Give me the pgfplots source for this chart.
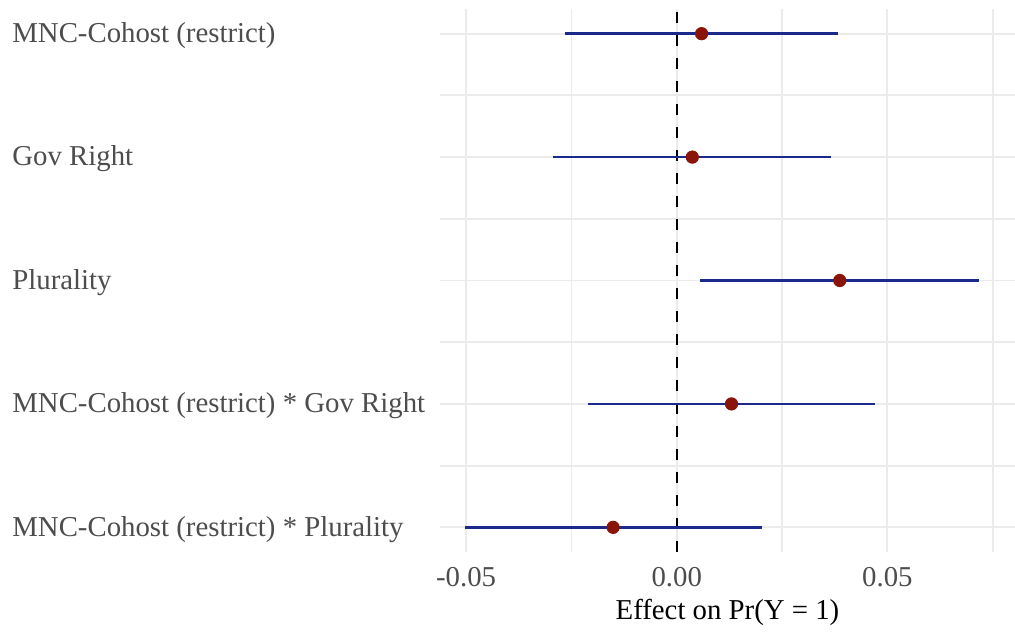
\documentclass[border=0pt]{standalone}
\usepackage{pgfplots}
\pgfplotsset{compat=1.18}
\usepackage{pgfplotstable}
\usepackage{fontspec}
\setmainfont{Liberation Serif}

\definecolor{cibar}{HTML}{1B2A8A}
\definecolor{estpt}{HTML}{8B1408}
\definecolor{gridgray}{HTML}{EBEBEB}
\definecolor{labgray}{HTML}{4D4D4D}

% row (top = 5), point estimate, lower and upper bound
\pgfplotstableread{
row est lo hi
5 0.0059 -0.0265 0.0384
4 0.0037 -0.0293 0.0367
3 0.0387 0.0056 0.0718
2 0.0130 -0.0210 0.0471
1 -0.0151 -0.0502 0.0202
}\effects

\begin{document}
\begin{tikzpicture}
\useasboundingbox (-220pt,-39.5pt) rectangle (287.5pt,276pt);
\begin{axis}[
  scale only axis,
  width=287.5pt, height=271.5pt,
  xmin=-0.0562, xmax=0.0803,
  ymin=0.8, ymax=5.2,
  axis line style={draw=none},
  major tick length=0pt, minor tick length=0pt,
  scaled x ticks=false,
  xtick={-0.05,0,0.05},
  xticklabels={-0.05,0.00,0.05},
  minor xtick={-0.025,0.025,0.075},
  ytick={1,2,3,4,5},
  yticklabels={MNC-Cohost (restrict) * Plurality,
               MNC-Cohost (restrict) * Gov Right,
               Plurality, Gov Right, MNC-Cohost (restrict)},
  minor ytick={1.5,2.5,3.5,4.5},
  grid=both,
  major grid style={gridgray, line width=0.9pt},
  minor grid style={gridgray, line width=0.9pt},
  tick label style={font=\fontsize{14.4}{17}\selectfont, text=labgray},
  /pgf/number format/assume math mode=true,
  yticklabel style={anchor=west, inner sep=0pt, xshift=-214pt, yshift=-1pt},
  xticklabel style={yshift=-4pt},
  xlabel={Effect on Pr(Y = 1)},
  xlabel style={font=\fontsize{14.4}{17}\selectfont, yshift=0.5pt},
  clip=false,
]
\addplot[black, line width=0.95pt, dash pattern=on 5.5pt off 6pt] coordinates {(0,0.8) (0,5.2)};
\addplot[cibar, line width=1.35pt] coordinates {(-0.0265,5) (0.0384,5)};
\addplot[cibar, line width=1.35pt] coordinates {(-0.0293,4) (0.0367,4)};
\addplot[cibar, line width=1.35pt] coordinates {(0.0056,3) (0.0718,3)};
\addplot[cibar, line width=1.35pt] coordinates {(-0.0210,2) (0.0471,2)};
\addplot[cibar, line width=1.35pt] coordinates {(-0.0502,1) (0.0202,1)};
\addplot[only marks, mark=*, mark size=3.1pt, mark options={fill=estpt, draw=estpt}]
  table[x=est, y=row] {\effects};
\end{axis}
\end{tikzpicture}
\end{document}
